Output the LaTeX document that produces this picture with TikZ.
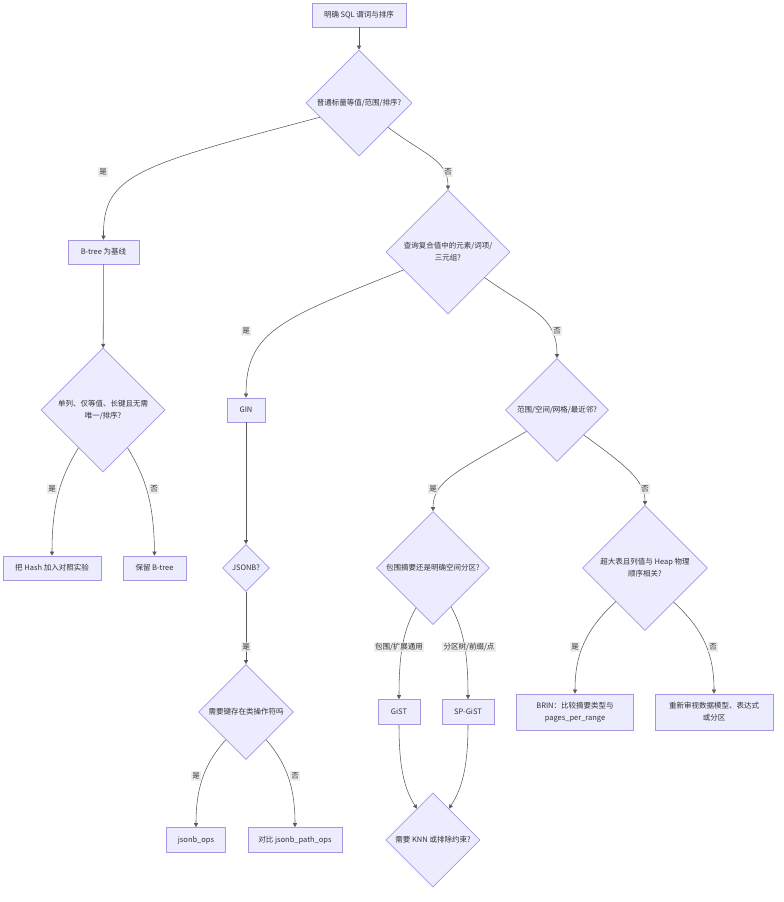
\documentclass[tikz,border=0pt]{standalone}
\usepackage{fontspec}
\setmainfont{Noto Sans CJK SC}
\usetikzlibrary{arrows.meta,shapes.geometric}
\definecolor{nodefill}{HTML}{ECECFF}
\definecolor{nodeline}{HTML}{A896E4}
\definecolor{edgeline}{HTML}{5A5A5A}
\definecolor{lblfill}{HTML}{E8E8E8}
\definecolor{txt}{HTML}{333333}

\begin{document}
\begin{tikzpicture}[x=1pt,y=-1pt,
  every node/.style={font=\fontsize{7.5}{12}\selectfont,text=txt},
  box/.style={draw=nodeline,fill=nodefill,line width=0.6pt,inner sep=0pt,minimum height=24pt,align=center},
  decision/.style={draw=nodeline,fill=nodefill,line width=0.6pt,shape=diamond,aspect=1,inner sep=0pt,minimum width=#1,minimum height=#1,align=center},
  edge/.style={draw=edgeline,line width=0.55pt,-{Triangle[length=4pt,width=4pt]}},
  lbl/.style={fill=lblfill,fill opacity=0.8,text opacity=1,inner sep=1.5pt}]
  \useasboundingbox (0,0) rectangle (784,902);
  % top: predicate and ordering
  \node[box,minimum width=94pt] (sql) at (359,15) {明确 SQL 谓词与排序};
  \node[decision=106pt] (plain) at (359,103) {普通标量等值/范围/排序?};
  % B-tree branch
  \node[box,minimum width=71pt] (btree) at (103.5,252) {B-tree 为基线};
  \node[decision=124pt] (hashq) at (103,410) {单列、仅等值、长键且无需\\唯一/排序?};
  \node[box,minimum width=98pt] (hash) at (52,568) {把 Hash 加入对照实验};
  \node[box,minimum width=63pt] (keep) at (154.5,568) {保留 B-tree};
  % compound values: GIN
  \node[decision=124pt] (compound) at (448,252) {查询复合值中的元素/词项/\\三元组?};
  \node[box,minimum width=38pt] (gin) at (246,410) {GIN};
  \node[decision=47pt] (jsonb) at (246,568) {JSONB?};
  \node[decision=95pt] (keyop) at (246,712) {需要键存在类操作符吗};
  \node[box,minimum width=59pt,minimum height=25pt] (jops) at (196,840) {jsonb\_ops};
  \node[box,minimum width=94pt,minimum height=25pt] (jpath) at (295,840) {对比 jsonb\_path\_ops};
  % range / spatial
  \node[decision=103pt] (spatial) at (557,410) {范围/空间/网格/最近邻?};
  \node[decision=113pt] (bbox) at (433,568) {包围摘要还是明确空间分区?};
  \node[box,minimum width=42pt,minimum height=25pt] (gist) at (399,712) {GiST};
  \node[box,minimum width=52pt,minimum height=25pt] (spgist) at (468,712) {SP-GiST};
  \node[decision=94pt] (knn) at (433,840) {需要 KNN 或排除约束?};
  % BRIN
  \node[decision=125pt] (brinq) at (645,568) {超大表且列值与 Heap 物理\\顺序相关?};
  \node[box,minimum width=117pt,minimum height=36pt] (brin) at (575,712) {BRIN：比较摘要类型与\\pages\_per\_range};
  \node[box,minimum width=118pt,minimum height=36pt] (remodel) at (714,712) {重新审视数据模型、表达式\\或分区};

  % connectors
  \draw[edge] (sql) -- (plain);
  \draw[edge] (plain.200) .. controls (136,166) and (103,175) .. (btree.north);
  \draw[edge] (plain.-40) .. controls (425,155) and (448,160) .. (compound.north);
  \draw[edge] (btree) -- (hashq);
  \draw[edge] (hashq.237) .. controls (62,475) and (52,500) .. (hash.north);
  \draw[edge] (hashq.-57) .. controls (144,475) and (154,500) .. (keep.north);
  \draw[edge] (compound.202) .. controls (284,318) and (246,330) .. (gin.north);
  \draw[edge] (compound.-35) .. controls (530,310) and (557,315) .. (spatial.north);
  \draw[edge] (gin) -- (jsonb);
  \draw[edge] (jsonb) -- (keyop);
  \draw[edge] (keyop.234) .. controls (203,765) and (196,790) .. (jops.north);
  \draw[edge] (keyop.-54) .. controls (288,765) and (295,790) .. (jpath.north);
  \draw[edge] (spatial.215) .. controls (460,470) and (433,480) .. (bbox.north);
  \draw[edge] (spatial.-43) .. controls (625,465) and (645,480) .. (brinq.north);
  \draw[edge] (bbox.247) .. controls (403,630) and (399,655) .. (gist.north);
  \draw[edge] (bbox.-65) .. controls (464,630) and (468,655) .. (spgist.north);
  \draw[edge] (gist.south) .. controls (399,770) and (405,790) .. (knn.117);
  \draw[edge] (spgist.south) .. controls (468,770) and (461,790) .. (knn.63);
  \draw[edge] (brinq.229) .. controls (585,630) and (575,655) .. (brin.north);
  \draw[edge] (brinq.-50) .. controls (704,630) and (714,655) .. (remodel.north);

  % edge labels
  \node[lbl] (l1) at (103,172) {是};
  \node[lbl] (l2) at (448,172) {否};
  \node[lbl] (l3) at (246,331) {是};
  \node[lbl] (l4) at (557,331) {否};
  \node[lbl] (l5) at (52,489) {是};
  \node[lbl] (l6) at (154,489) {否};
  \node[lbl] (l7) at (433,489) {是};
  \node[lbl] (l8) at (645,489) {否};
  \node[lbl] (l9) at (246,647) {是};
  \node[lbl] (l10) at (399,647) {包围/扩展通用};
  \node[lbl] (l11) at (469,647) {分区树/前缀/点};
  \node[lbl] (l12) at (575,647) {是};
  \node[lbl] (l13) at (713,647) {否};
  \node[lbl] (l14) at (196,776) {是};
  \node[lbl] (l15) at (295,776) {否};
\end{tikzpicture}
\end{document}
